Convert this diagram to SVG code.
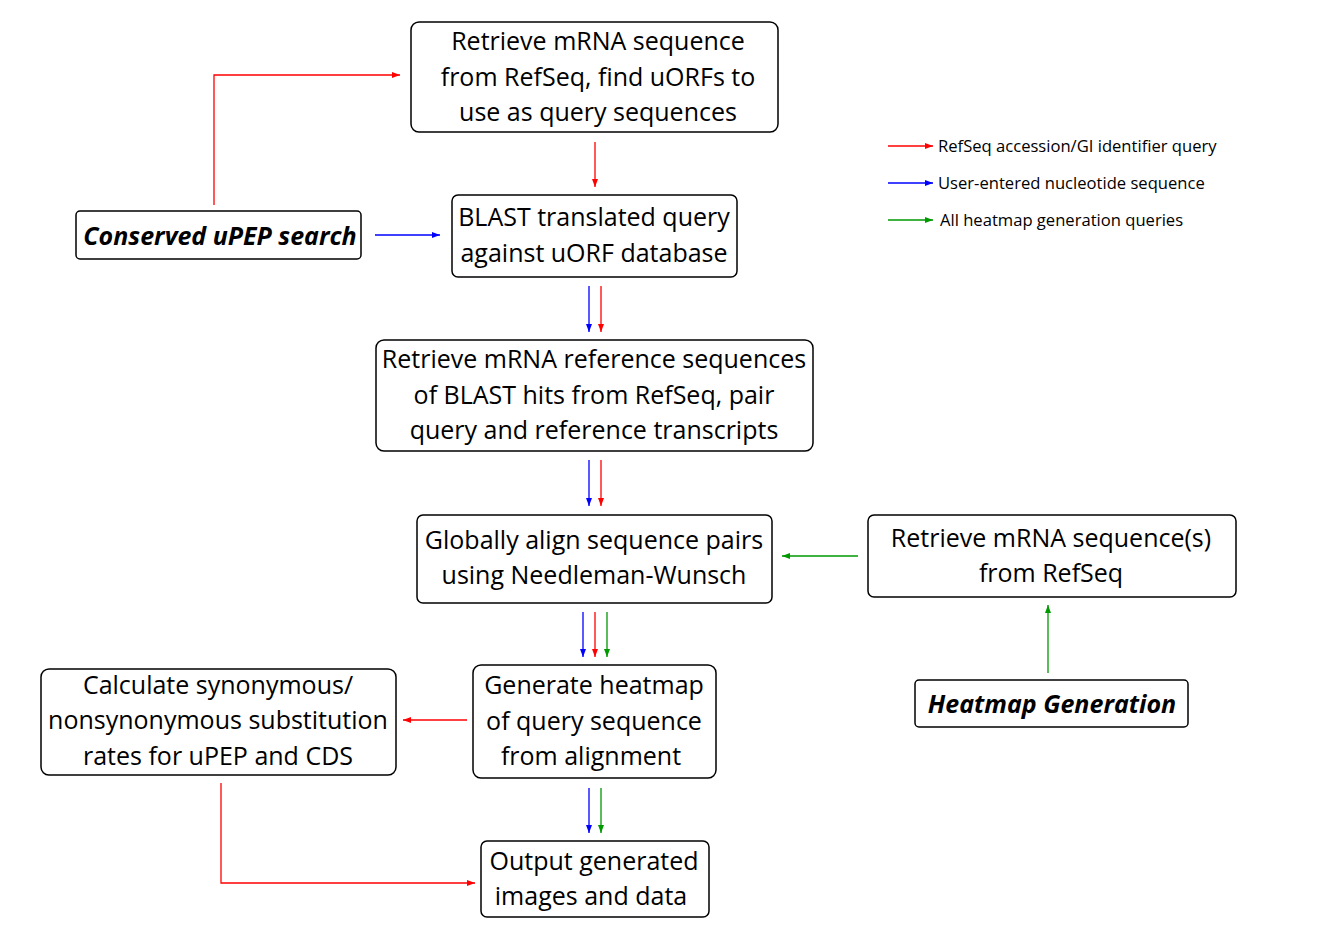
<svg xmlns="http://www.w3.org/2000/svg" width="1318" height="950" viewBox="0 0 1318 950">
<style>
.box{fill:#fff;stroke:#000;stroke-width:1.5}
.t{font-family:"Open Sans","Liberation Sans",sans-serif;font-size:25px;fill:#000;text-anchor:middle}
.tb{font-family:"Open Sans","Liberation Sans",sans-serif;font-size:25px;font-weight:bold;font-style:italic;fill:#000;text-anchor:middle}
.lg{font-family:"Open Sans","Liberation Sans",sans-serif;font-size:16.6px;fill:#000}
.r{stroke:#ff0000;stroke-width:1.3;fill:none;marker-end:url(#ar)}
.b{stroke:#0000ff;stroke-width:1.3;fill:none;marker-end:url(#ab)}
.g{stroke:#009900;stroke-width:1.3;fill:none;marker-end:url(#ag)}
</style>
<defs>
<marker id="ar" markerWidth="8" markerHeight="6" refX="8" refY="3" orient="auto" markerUnits="userSpaceOnUse"><path d="M0,0 L8,3 L0,6 Z" fill="#ff0000"/></marker>
<marker id="ab" markerWidth="8" markerHeight="6" refX="8" refY="3" orient="auto" markerUnits="userSpaceOnUse"><path d="M0,0 L8,3 L0,6 Z" fill="#0000ff"/></marker>
<marker id="ag" markerWidth="8" markerHeight="6" refX="8" refY="3" orient="auto" markerUnits="userSpaceOnUse"><path d="M0,0 L8,3 L0,6 Z" fill="#009900"/></marker>
</defs>
<rect width="1318" height="950" fill="#fff"/>
<g id="connectors">
<path class="r" d="M214,205 V75 H400"/>
<path class="r" d="M595,142 V187"/>
<path class="b" d="M375,235 H440"/>
<path class="b" d="M589,286 V332"/>
<path class="r" d="M601,286 V332"/>
<path class="b" d="M589,460 V506"/>
<path class="r" d="M601,460 V506"/>
<path class="g" d="M858,556 H782"/>
<path class="g" d="M1048,673 V605"/>
<path class="b" d="M583,612 V657"/>
<path class="r" d="M595,612 V657"/>
<path class="g" d="M607,612 V657"/>
<path class="r" d="M467,720 H403"/>
<path class="b" d="M589,788 V833"/>
<path class="g" d="M601,788 V833"/>
<path class="r" d="M221,783 V883 H475"/>
</g>
<g id="legend">
<path class="r" d="M888,146 H933"/>
<text class="lg" x="938" y="152">RefSeq accession/GI identifier query</text>
<path class="b" d="M888,183 H933"/>
<text class="lg" x="938" y="189">User-entered nucleotide sequence</text>
<path class="g" d="M888,220 H933"/>
<text class="lg" x="940" y="226">All heatmap generation queries</text>
</g>
<g id="n1">
<rect class="box" x="411" y="22" width="367" height="110" rx="8"/>
<text class="t" x="598" y="50">Retrieve mRNA sequence</text>
<text class="t" x="598" y="86">from RefSeq, find uORFs to</text>
<text class="t" x="598" y="121">use as query sequences</text>
</g>
<g id="n2">
<rect class="box" x="76" y="211" width="285" height="48" rx="4"/>
<text class="tb" x="220" y="245">Conserved uPEP search</text>
</g>
<g id="n3">
<rect class="box" x="452" y="195" width="285" height="82" rx="6"/>
<text class="t" x="594" y="226">BLAST translated query</text>
<text class="t" x="594" y="262">against uORF database</text>
</g>
<g id="n4">
<rect class="box" x="376" y="340" width="437" height="111" rx="8"/>
<text class="t" x="594" y="368">Retrieve mRNA reference sequences</text>
<text class="t" x="594" y="404">of BLAST hits from RefSeq, pair</text>
<text class="t" x="594" y="439">query and reference transcripts</text>
</g>
<g id="n5">
<rect class="box" x="417" y="515" width="355" height="88" rx="6"/>
<text class="t" x="594" y="549">Globally align sequence pairs</text>
<text class="t" x="594" y="584">using Needleman-Wunsch</text>
</g>
<g id="n6">
<rect class="box" x="868" y="515" width="368" height="82" rx="6"/>
<text class="t" x="1051" y="547">Retrieve mRNA sequence(s)</text>
<text class="t" x="1051" y="582">from RefSeq</text>
</g>
<g id="n7">
<rect class="box" x="915" y="680" width="273" height="47" rx="4"/>
<text class="tb" x="1052" y="713">Heatmap Generation</text>
</g>
<g id="n8">
<rect class="box" x="473" y="665" width="243" height="113" rx="8"/>
<text class="t" x="594" y="694">Generate heatmap</text>
<text class="t" x="594" y="730">of query sequence</text>
<text class="t" x="591" y="765">from alignment</text>
</g>
<g id="n9">
<rect class="box" x="41" y="669" width="355" height="106" rx="8"/>
<text class="t" x="218" y="694">Calculate synonymous/</text>
<text class="t" x="218" y="729">nonsynonymous substitution</text>
<text class="t" x="218" y="765">rates for uPEP and CDS</text>
</g>
<g id="n10">
<rect class="box" x="481" y="841" width="228" height="76" rx="6"/>
<text class="t" x="594" y="870">Output generated</text>
<text class="t" x="591" y="905">images and data</text>
</g>
</svg>
